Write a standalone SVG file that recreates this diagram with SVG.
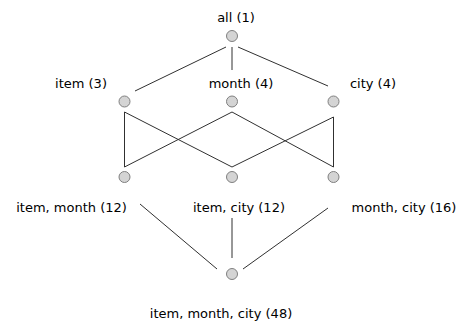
<svg xmlns="http://www.w3.org/2000/svg" width="464" height="322" viewBox="0 0 464 322">
  <style>
    .node circle { fill: #d4d4d4; stroke: #808080; stroke-width: 1; }
    .node text { font-family: "DejaVu Sans", Verdana, sans-serif; font-size: 13px; fill: #000; text-anchor: middle; }
    #edges line { stroke: #303030; stroke-width: 1; }
  </style>
  <rect width="464" height="322" fill="#fff"/>
  <g id="edges">
    <line x1="226" y1="47" x2="135" y2="91"/>
    <line x1="232" y1="47" x2="232" y2="70"/>
    <line x1="238" y1="47" x2="328" y2="86"/>
    <line x1="124.5" y1="112" x2="124.5" y2="167"/>
    <line x1="124.5" y1="112" x2="232" y2="167"/>
    <line x1="232" y1="112" x2="124.5" y2="167"/>
    <line x1="232" y1="112" x2="333.5" y2="167"/>
    <line x1="333.5" y1="117" x2="232" y2="167"/>
    <line x1="333.5" y1="117" x2="333.5" y2="167"/>
    <line x1="140" y1="204" x2="217" y2="269"/>
    <line x1="232" y1="218" x2="232" y2="258"/>
    <line x1="328" y1="208" x2="243" y2="269"/>
  </g>
  <g id="n-all" class="node">
    <circle cx="232" cy="36" r="5.5"/>
    <text x="236" y="22">all (1)</text>
  </g>
  <g id="n-item" class="node">
    <circle cx="124.5" cy="101.5" r="5.5"/>
    <text x="81" y="88">item (3)</text>
  </g>
  <g id="n-month" class="node">
    <circle cx="232" cy="101.5" r="5.5"/>
    <text x="241" y="88">month (4)</text>
  </g>
  <g id="n-city" class="node">
    <circle cx="333.5" cy="101.5" r="5.5"/>
    <text x="373" y="88">city (4)</text>
  </g>
  <g id="n-item-month" class="node">
    <circle cx="124.5" cy="177" r="5.5"/>
    <text x="71.5" y="212">item, month (12)</text>
  </g>
  <g id="n-item-city" class="node">
    <circle cx="232" cy="177" r="5.5"/>
    <text x="239" y="212">item, city (12)</text>
  </g>
  <g id="n-month-city" class="node">
    <circle cx="333.5" cy="177" r="5.5"/>
    <text x="404" y="212">month, city (16)</text>
  </g>
  <g id="n-item-month-city" class="node">
    <circle cx="232" cy="274" r="5.5"/>
    <text x="221" y="318">item, month, city (48)</text>
  </g>
</svg>
